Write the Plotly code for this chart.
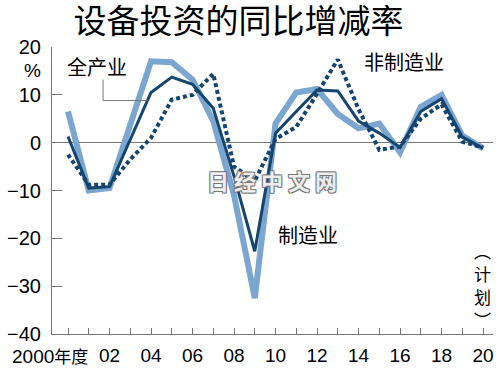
import plotly.graph_objects as go

years = list(range(2000, 2021))
manufacturing = [6.5, -10, -9.5, 3.5, 17, 16.8, 13.2, 4.5, -11, -32.5, 4, 10.5, 11.2, 6, 3, 4, -2, 7.5, 10, 1.5, -1.2]
all_industry = [1.3, -9.5, -9.2, 0.5, 10.5, 13.7, 12.2, 7.2, -7, -22.7, 2, 6.5, 11, 10.8, 4.5, 2, -1, 6.5, 9.2, 1.2, -1.2]
non_manufacturing = [-2.5, -8.8, -8.8, -3.5, 1, 9, 10, 14.4, -5, -8, 0.8, 3.3, 10.2, 17.4, 7, -1.5, -0.8, 5, 8, 0.2, -1]

y_ticks = [-40, -30, -20, -10, 0, 10, 20]
x_tick_labels = {2002: "02", 2004: "04", 2006: "06", 2008: "08", 2010: "10", 2012: "12",
                 2014: "14", 2016: "16", 2018: "18", 2020: "20"}
plan_chars = ["︵", "计", "划", "︶"]

LIGHT = "#7ba6cf"
DARK = "#15446f"
GRID = "#777777"
NUM_FONT = "Liberation Sans Narrow, Arial Narrow, Liberation Sans, Noto Sans CJK SC"
CJK = "Noto Sans CJK SC"

fig = go.Figure()
fig.add_trace(go.Scatter(x=years, y=manufacturing, mode="lines",
                         line=dict(color=LIGHT, width=6), name="制造业"))
fig.add_trace(go.Scatter(x=years, y=non_manufacturing, mode="lines",
                         line=dict(color=DARK, width=4, dash="4px,3px"), name="非制造业"))
fig.add_trace(go.Scatter(x=years, y=all_industry, mode="lines",
                         line=dict(color=DARK, width=3), name="全产业"))

fig.update_layout(
    width=500, height=371,
    margin=dict(l=52, r=7, t=47, b=37),
    paper_bgcolor="white", plot_bgcolor="white",
    showlegend=False,
    title=dict(text="设备投资的同比增减率", x=0.477, xanchor="center",
               y=1 - 21 / 371, yanchor="middle", yref="container",
               font=dict(family=CJK, size=33, color="black")),
    xaxis=dict(range=[1999.229, 2020.48], showgrid=False, zeroline=False,
               showline=True, linecolor=GRID, linewidth=1, automargin=False,
               tickvals=years,
               ticktext=[x_tick_labels.get(y, "") for y in years],
               ticks="inside", ticklen=6, tickcolor=GRID, tickwidth=1,
               ticklabelstandoff=4,
               tickfont=dict(family=NUM_FONT, size=19, color="black")),
    yaxis=dict(range=[-40, 20], showgrid=False, zeroline=True, zerolinecolor=GRID,
               zerolinewidth=1, showline=True, linecolor=GRID, linewidth=1,
               automargin=False,
               tickvals=y_ticks, ticks="inside", ticklen=10, tickcolor=GRID,
               tickwidth=1, ticklabelstandoff=6,
               tickfont=dict(family=NUM_FONT, size=20, color="black")),
)

ann_font = dict(family=CJK, size=20, color="black")
fig.add_annotation(x=2000, y=0, xref="x", yref="paper",
                   text="2000<span style='font-size:17px'>年度</span>",
                   showarrow=False, xanchor="right", xshift=22, yanchor="top", yshift=-10,
                   font=dict(family=NUM_FONT, size=19, color="black"))
fig.add_annotation(x=1999.229, y=15.0, xref="x", yref="y", text="%",
                   showarrow=False, xanchor="center", yanchor="middle", xshift=-20,
                   font=dict(family=NUM_FONT, size=19, color="black"))
fig.add_annotation(x=2001.4, y=15.9, text="全产业", showarrow=False, font=ann_font)
fig.add_annotation(x=2016.19, y=16.9, text="非制造业", showarrow=False, font=ann_font)
fig.add_annotation(x=2011.57, y=-19.2, text="制造业", showarrow=False, font=ann_font)
for i, ch in enumerate(plan_chars):
    fig.add_annotation(x=2019.95, y=-22.5 - 4.8 * i, text=ch, showarrow=False,
                       font=dict(family=CJK, size=17, color="black"))
fig.add_annotation(x=2009.83, y=-7.7, text="日 经 中 文 网", showarrow=False,
                   font=dict(family=CJK, size=22, color="#eeeeee", weight="bold",
                             shadow="-1px -1px 0 #777, 1px -1px 0 #777, -1px 1px 0 #777, 1px 1px 0 #777"))
fig.add_shape(type="path", path="M 2001.69 13.2 L 2001.69 8.8 L 2003.86 8.8",
              line=dict(color=GRID, width=1))

fig.write_html("out.html")
